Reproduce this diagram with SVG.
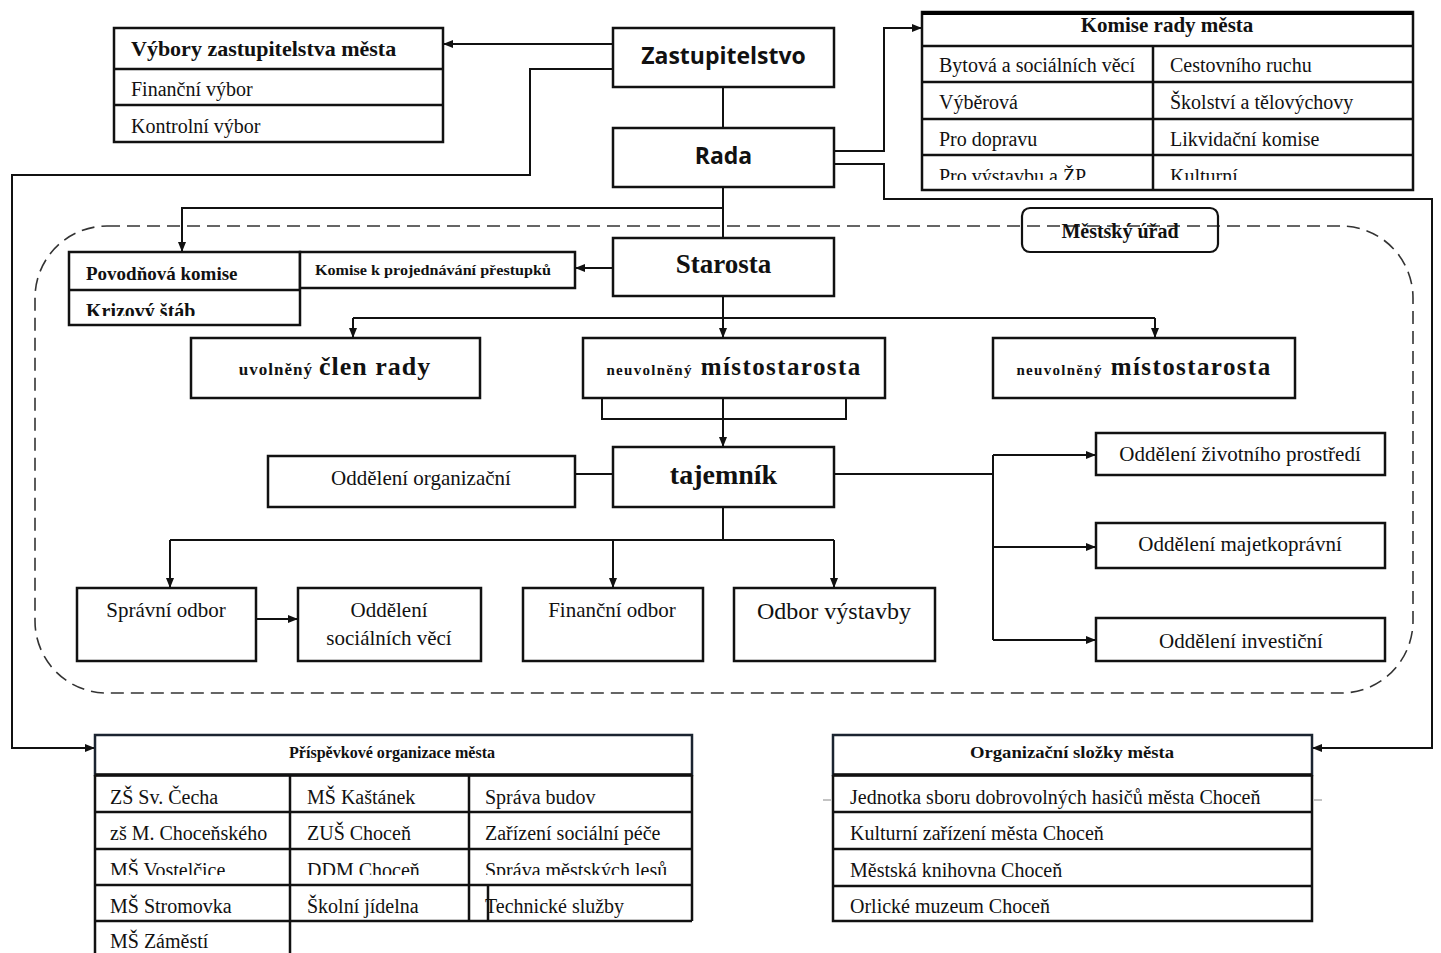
<svg xmlns="http://www.w3.org/2000/svg" width="1441" height="953" viewBox="0 0 1441 953">
<defs>
<style>
.box{fill:#fff;stroke:#111;stroke-width:2.5}
.cell{fill:none;stroke:#111;stroke-width:2.5}
.ln{fill:none;stroke:#111;stroke-width:2}
.arr{marker-end:url(#ah)}
.dash{fill:none;stroke:#333;stroke-width:1.6;stroke-dasharray:13 7}
.s{font-family:"Liberation Serif","Times New Roman",serif;fill:#111}
.b{font-weight:bold}
.sans{font-family:"Open Sans","Liberation Sans",sans-serif;font-weight:700;fill:#111}
.t20{font-size:20px}
.t22{font-size:22px}
.mid{text-anchor:middle}
</style>
<marker id="ah" viewBox="0 0 10 10" refX="10" refY="5" markerWidth="10" markerHeight="10" markerUnits="userSpaceOnUse" orient="auto"><path d="M0,1 L10,5 L0,9 z" fill="#111"/></marker>
<clipPath id="cKriz"><rect x="69" y="290" width="231" height="26"/></clipPath>
<clipPath id="cKom4"><rect x="922" y="155" width="491" height="25"/></clipPath>
<clipPath id="cPr3"><rect x="95" y="849" width="597" height="26"/></clipPath>
</defs>
<rect width="1441" height="953" fill="#fff"/>

<!-- Městský úřad boundary -->
<g id="mestsky-urad">
<rect class="dash" x="35" y="226" width="1378" height="467" rx="72" ry="72"/>
<rect x="1022" y="208" width="196" height="44" rx="8" fill="none" stroke="#111" stroke-width="2.2"/>
<text class="s b" x="1120" y="238" font-size="20" text-anchor="middle">Městský úřad</text>
</g>

<g id="connectors">
<path class="ln arr" d="M613,44 H443"/>
<path class="ln arr" d="M613,69 H530 V175 H12 V748 H95"/>
<path class="ln" d="M723,87 V128"/>
<path class="ln arr" d="M834,151 H884 V28 H922"/>
<path class="ln arr" d="M834,164 H884 V199 H1432 V748 H1312"/>
<path class="ln" d="M723,187 V238"/>
<path class="ln arr" d="M723,208 H182 V252"/>
<path class="ln arr" d="M613,268 H575"/>
<path class="ln" d="M723,296 V318 M353,318 H1155"/>
<path class="ln arr" d="M353,318 V338"/>
<path class="ln arr" d="M723,318 V338"/>
<path class="ln arr" d="M1155,318 V338"/>
<path class="ln" d="M602,398 V419 H846 V398"/>
<path class="ln arr" d="M723,398 V447"/>
<path class="ln" d="M575,474 H613"/>
<path class="ln" d="M834,474 H993 M993,455 V640"/>
<path class="ln arr" d="M993,455 H1096"/>
<path class="ln arr" d="M993,547 H1096"/>
<path class="ln arr" d="M993,640 H1096"/>
<path class="ln" d="M723,507 V540 M170,540 H834"/>
<path class="ln arr" d="M170,540 V588"/>
<path class="ln arr" d="M613,540 V588"/>
<path class="ln arr" d="M834,540 V588"/>
<path class="ln arr" d="M256,619 H298"/>
</g>

<g id="vybory">
<rect class="box" x="114" y="28" width="329" height="114"/>
<path class="cell" d="M114,69 H443 M114,105 H443"/>
<text class="s b" x="131" y="56" font-size="22">Výbory zastupitelstva města</text>
<text class="s t20" x="131" y="96">Finanční výbor</text>
<text class="s t20" x="131" y="133">Kontrolní výbor</text>
</g>

<g id="zastupitelstvo">
<rect class="box" x="613" y="28" width="221" height="59"/>
<text class="sans mid" x="723.5" y="64" font-size="23">Zastupitelstvo</text>
</g>

<g id="rada">
<rect class="box" x="613" y="128" width="221" height="59"/>
<text class="sans mid" x="723.5" y="164" font-size="23">Rada</text>
</g>

<g id="komise-rady">
<rect class="box" x="922" y="12" width="491" height="178"/>
<path d="M922,13 H1413" stroke="#000" stroke-width="4"/>
<path class="cell" d="M922,46 H1413 M922,82 H1413 M922,119 H1413 M922,155 H1413 M1153,46 V190"/>
<text class="s b mid" x="1167" y="32" font-size="21">Komise rady města</text>
<text class="s t20" x="939" y="72">Bytová a sociálních věcí</text>
<text class="s t20" x="1170" y="72">Cestovního ruchu</text>
<text class="s t20" x="939" y="109">Výběrová</text>
<text class="s t20" x="1170" y="109">Školství a tělovýchovy</text>
<text class="s t20" x="939" y="146">Pro dopravu</text>
<text class="s t20" x="1170" y="146">Likvidační komise</text>
<g clip-path="url(#cKom4)">
<text class="s t20" x="939" y="183">Pro výstavbu a ŽP</text>
<text class="s t20" x="1170" y="183">Kulturní</text>
</g>
</g>

<g id="povodnova">
<rect class="box" x="69" y="252" width="231" height="73"/>
<path class="cell" d="M69,290 H300"/>
<text class="s b" x="86" y="280" font-size="19">Povodňová komise</text>
<text class="s b" x="86" y="318" font-size="20" clip-path="url(#cKriz)">Krizový štáb</text>
</g>

<g id="komise-prestupky">
<rect class="box" x="300" y="252" width="275" height="36"/>
<text class="s b" x="315" y="275" font-size="15" textLength="236" lengthAdjust="spacingAndGlyphs">Komise k projednávání přestupků</text>
</g>

<g id="starosta">
<rect class="box" x="613" y="238" width="221" height="58"/>
<text class="s b mid" x="723.5" y="273" font-size="27">Starosta</text>
</g>

<g id="uvolneny">
<rect class="box" x="191" y="338" width="289" height="60"/>
<text class="s b mid" x="335" y="375"><tspan font-size="17" letter-spacing="1">uvolněný</tspan><tspan font-size="26" letter-spacing="1" dx="6">člen rady</tspan></text>
</g>

<g id="mistostarosta1">
<rect class="box" x="583" y="338" width="302" height="60"/>
<text class="s b mid" x="734" y="375"><tspan font-size="15" letter-spacing="1.3">neuvolněný</tspan><tspan font-size="25" letter-spacing="1.4" dx="8">místostarosta</tspan></text>
</g>

<g id="mistostarosta2">
<rect class="box" x="993" y="338" width="302" height="60"/>
<text class="s b mid" x="1144" y="375"><tspan font-size="15" letter-spacing="1.3">neuvolněný</tspan><tspan font-size="25" letter-spacing="1.4" dx="8">místostarosta</tspan></text>
</g>

<g id="tajemnik">
<rect class="box" x="613" y="447" width="221" height="60"/>
<text class="s b mid" x="723.5" y="484" font-size="28">tajemník</text>
</g>

<g id="odd-organizacni">
<rect class="box" x="268" y="456" width="307" height="51"/>
<text class="s mid" x="421" y="485" font-size="21">Oddělení organizační</text>
</g>

<g id="odd-zivotni">
<rect class="box" x="1096" y="433" width="289" height="42"/>
<text class="s mid" x="1240" y="461" font-size="21">Oddělení životního prostředí</text>
</g>

<g id="odd-majetko">
<rect class="box" x="1096" y="523" width="289" height="45"/>
<text class="s mid" x="1240" y="551" font-size="21">Oddělení majetkoprávní</text>
</g>

<g id="odd-investicni">
<rect class="box" x="1096" y="618" width="289" height="43"/>
<text class="s mid" x="1241" y="648" font-size="21">Oddělení investiční</text>
</g>

<g id="spravni-odbor">
<rect class="box" x="77" y="588" width="179" height="73"/>
<text class="s mid" x="166" y="617" font-size="21">Správní odbor</text>
</g>

<g id="odd-socialni">
<rect class="box" x="298" y="588" width="183" height="73"/>
<text class="s mid" x="389" y="617" font-size="21">Oddělení</text>
<text class="s mid" x="389" y="645" font-size="21">sociálních věcí</text>
</g>

<g id="financni-odbor">
<rect class="box" x="523" y="588" width="180" height="73"/>
<text class="s mid" x="612" y="617" font-size="21">Finanční odbor</text>
</g>

<g id="odbor-vystavby">
<rect class="box" x="734" y="588" width="201" height="73"/>
<text class="s mid" x="834" y="619" font-size="24">Odbor výstavby</text>
</g>

<g id="prispevkove">
<rect x="95" y="735" width="597" height="40" fill="#fff" stroke="#1b2430" stroke-width="2.5"/>
<path d="M95,775 H692" stroke="#111" stroke-width="3.5"/>
<path class="cell" d="M95,775 V953 M290,775 V953 M469,775 V921 M692,775 V921 M95,812 H692 M95,849 H692 M95,885 H692 M95,921 H692 M488,885 V921"/>
<text class="s b mid" x="392" y="758" font-size="16" textLength="206" lengthAdjust="spacingAndGlyphs">Příspěvkové organizace města</text>
<text class="s t20" x="110" y="804">ZŠ Sv. Čecha</text>
<text class="s t20" x="307" y="804">MŠ Kaštánek</text>
<text class="s t20" x="485" y="804">Správa budov</text>
<text class="s t20" x="110" y="840">zš M. Choceňského</text>
<text class="s t20" x="307" y="840">ZUŠ Choceň</text>
<text class="s t20" x="485" y="840">Zařízení sociální péče</text>
<g clip-path="url(#cPr3)">
<text class="s t20" x="110" y="877">MŠ Vostelčice</text>
<text class="s t20" x="307" y="877">DDM Choceň</text>
<text class="s t20" x="485" y="877">Správa městských lesů</text>
</g>
<text class="s t20" x="110" y="913">MŠ Stromovka</text>
<text class="s t20" x="307" y="913">Školní jídelna</text>
<text class="s t20" x="485" y="913">Technické služby</text>
<text class="s t20" x="110" y="948">MŠ Záměstí</text>
</g>

<g id="organizacni-slozky">
<rect x="833" y="735" width="479" height="40" fill="#fff" stroke="#1b2430" stroke-width="2.5"/>
<path d="M833,775 H1312" stroke="#111" stroke-width="3.5"/>
<path class="cell" d="M833,775 V921 H1312 V775 M833,812 H1312 M833,849 H1312 M833,886 H1312"/>
<path d="M823,800 H831 M1314,800 H1322" stroke="#888" stroke-width="1"/>
<text class="s b mid" x="1072" y="758" font-size="16" textLength="204" lengthAdjust="spacingAndGlyphs">Organizační složky města</text>
<text class="s t20" x="850" y="804">Jednotka sboru dobrovolných hasičů města Choceň</text>
<text class="s t20" x="850" y="840">Kulturní zařízení města Choceň</text>
<text class="s t20" x="850" y="877">Městská knihovna Choceň</text>
<text class="s t20" x="850" y="913">Orlické muzeum Choceň</text>
</g>
</svg>
